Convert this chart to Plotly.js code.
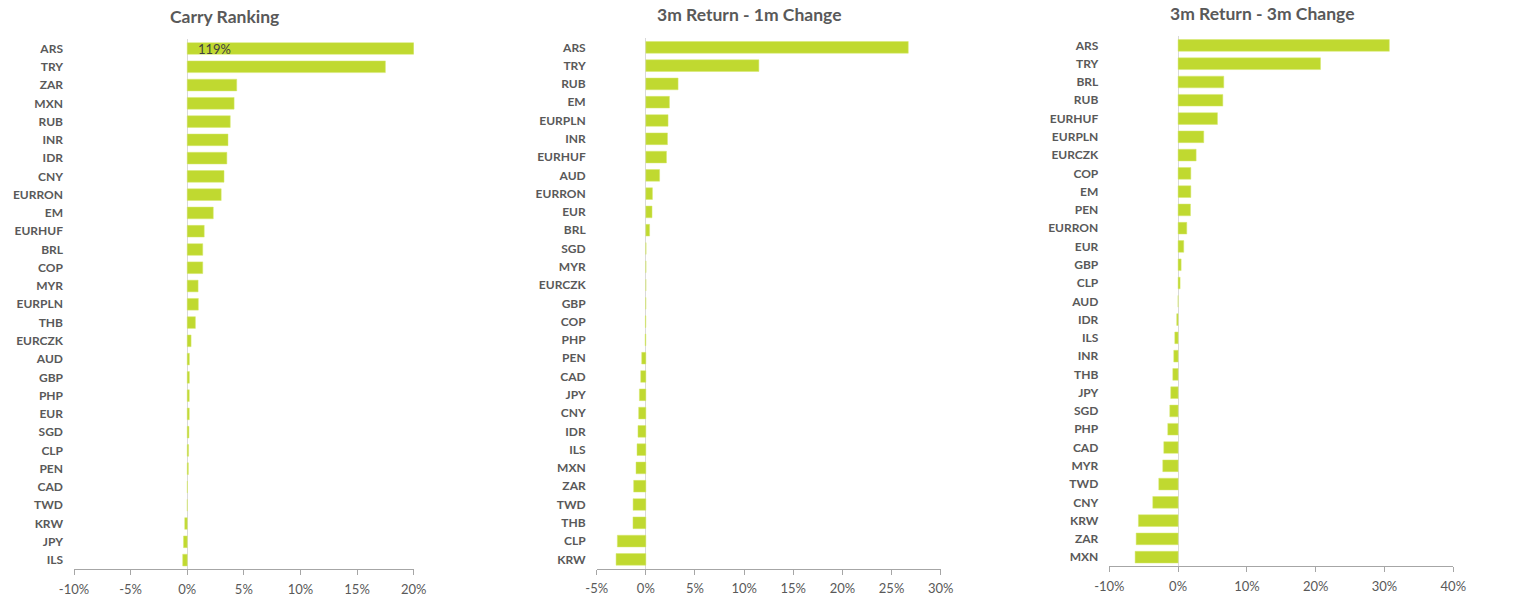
<!DOCTYPE html>
<html>
<head>
<meta charset="utf-8">
<script src="https://cdn.plot.ly/plotly-3.0.1.min.js"></script>
<style>html,body{margin:0;padding:0;background:#fff;}#chart{width:1530px;height:597px;}</style>
</head>
<body>
<div id="chart"></div>
<script>
// Panel 1: Carry Ranking
const carryCats = ["ARS","TRY","ZAR","MXN","RUB","INR","IDR","CNY","EURRON","EM","EURHUF","BRL","COP","MYR","EURPLN","THB","EURCZK","AUD","GBP","PHP","EUR","SGD","CLP","PEN","CAD","TWD","KRW","JPY","ILS"];
const carryVals = [1.19,0.175,0.0437,0.0414,0.038,0.036,0.035,0.0325,0.030,0.023,0.015,0.0137,0.0137,0.0096,0.0098,0.0072,0.0034,0.0019,0.0019,0.0018,0.0018,0.0015,0.0012,0.0010,0.0002,0.0001,-0.0022,-0.0033,-0.0040];

// Panel 2: 3m Return - 1m Change
const ret1mCats = ["ARS","TRY","RUB","EM","EURPLN","INR","EURHUF","AUD","EURRON","EUR","BRL","SGD","MYR","EURCZK","GBP","COP","PHP","PEN","CAD","JPY","CNY","IDR","ILS","MXN","ZAR","TWD","THB","CLP","KRW"];
const ret1mVals = [0.267,0.115,0.0328,0.024,0.0226,0.022,0.021,0.014,0.0067,0.0063,0.0038,0.0002,0.0001,0.0000,-0.0002,-0.0005,-0.0007,-0.0042,-0.0052,-0.0066,-0.0073,-0.0080,-0.0090,-0.0100,-0.0124,-0.0130,-0.0131,-0.0290,-0.0303];

// Panel 3: 3m Return - 3m Change
const ret3mCats = ["ARS","TRY","BRL","RUB","EURHUF","EURPLN","EURCZK","COP","EM","PEN","EURRON","EUR","GBP","CLP","AUD","IDR","ILS","INR","THB","JPY","SGD","PHP","CAD","MYR","TWD","CNY","KRW","ZAR","MXN"];
const ret3mVals = [0.307,0.207,0.0664,0.065,0.0572,0.0373,0.0262,0.0185,0.0185,0.018,0.0126,0.0082,0.0044,0.0029,0.0000,-0.0020,-0.0048,-0.0063,-0.0077,-0.0107,-0.0121,-0.0150,-0.0208,-0.0223,-0.0281,-0.0368,-0.0577,-0.0610,-0.0625];

// x-axis tick values per panel
const xTicks1 = [-0.10,-0.05,0,0.05,0.10,0.15,0.20];
const xTicks2 = [-0.05,0,0.05,0.10,0.15,0.20,0.25,0.30];
const xTicks3 = [-0.10,0,0.10,0.20,0.30,0.40];

const titles = ["Carry Ranking","3m Return - 1m Change","3m Return - 3m Change"];

const W = 1530, H = 597;
const barColor = "#C0D930";
const txtColor = "#595959";
const fontFam = "Lato, 'Open Sans', sans-serif";

const cats = [carryCats, ret1mCats, ret3mCats];
const vals = [carryVals, ret1mVals, ret3mVals];
const ticks = [xTicks1, xTicks2, xTicks3];

// plot-area pixel boxes [left, right, top, bottom]
const boxes = [[74,413.7,38.5,569.2],[596.7,940.7,38.2,568.5],[1109.3,1453.3,36.3,566.3]];

const data = [];
const layout = {
  width: W, height: H,
  margin: {l:0,r:0,t:0,b:0},
  paper_bgcolor: "#fff", plot_bgcolor: "#fff",
  showlegend: false,
  bargap: 0.36,
  font: {family: fontFam, color: txtColor},
  annotations: []
};

for (let i=0;i<3;i++){
  const sfx = i===0 ? "" : String(i+1);
  const b = boxes[i];
  const tv = ticks[i];
  data.push({
    type: "bar", orientation: "h",
    x: vals[i], y: cats[i],
    xaxis: "x"+sfx, yaxis: "y"+sfx,
    marker: {color: barColor, line: {color: "#d6e86f", width: 0.5}},
    hoverinfo: "x+y", cliponaxis: true
  });
  layout["xaxis"+sfx] = {
    domain: [b[0]/W, b[1]/W],
    anchor: "y"+sfx,
    range: [tv[0], tv[tv.length-1]],
    tickmode: "array",
    tickvals: tv,
    ticktext: tv.map(v => Math.round(v*100) + "%"),
    showgrid: false,
    zeroline: true, zerolinecolor: "#d9d9d9", zerolinewidth: 1,
    showline: true, linecolor: "#a6a6a6", linewidth: 1,
    ticks: "outside", ticklen: 5, tickcolor: "#a6a6a6",
    ticklabelstandoff: 3,
    tickfont: {size: 13, color: txtColor, family: fontFam},
    fixedrange: true
  };
  layout["yaxis"+sfx] = {
    domain: [(H-b[3])/H, (H-b[2])/H],
    anchor: "x"+sfx,
    type: "category",
    autorange: "reversed",
    showgrid: false, zeroline: false, showline: false,
    ticks: "", ticklabelstandoff: 10,
    tickfont: {size: 12, color: txtColor, family: fontFam, weight: "bold"},
    fixedrange: true
  };
  layout.annotations.push({
    xref: "paper", yref: "paper",
    x: [224/W, 749/W, 1262/W][i], y: (H-[16,15,13][i])/H,
    xanchor: "center", yanchor: "middle",
    text: "<b>"+titles[i]+"</b>", showarrow: false,
    font: {size: 17.5, color: txtColor, family: fontFam}
  });
}

// data label for the clipped ARS carry bar
layout.annotations.push({
  xref: "x", yref: "y",
  x: 0, y: carryCats[0],
  xanchor: "left", yanchor: "middle", xshift: 9,
  text: Math.round(carryVals[0]*100)+"%",
  showarrow: false,
  font: {size: 13, color: "#404040", family: fontFam}
});

Plotly.newPlot("chart", data, layout, {displayModeBar: false, staticPlot: true});
</script>
</body>
</html>
